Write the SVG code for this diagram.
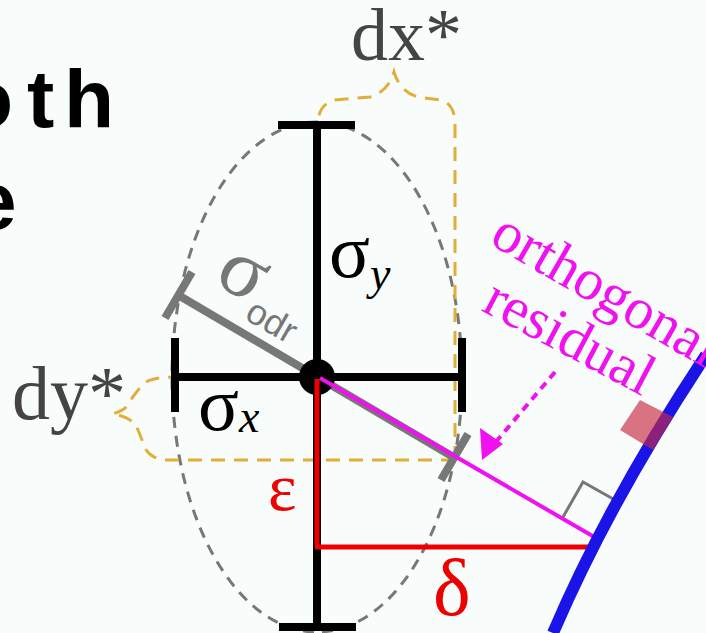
<svg xmlns="http://www.w3.org/2000/svg" width="706" height="633" viewBox="0 0 706 633">
<style>
.serif{font-family:"Liberation Serif","DejaVu Serif",serif}
.bold{font-family:"Liberation Sans","DejaVu Sans",sans-serif;font-weight:bold}
.blk{stroke:#000;stroke-width:8;fill:none}
.gold{stroke:#e2ae3a;stroke-width:3;fill:none;stroke-dasharray:14 9}
</style>
<rect width="706" height="633" fill="#f8fdfb"/>
<g id="title">
<text class="bold" font-size="82" fill="#000" y="127"><tspan x="-37">o</tspan><tspan x="27">t</tspan><tspan x="64">h</tspan></text>
<text x="-29" y="229" class="bold" font-size="82" fill="#000">e</text>
</g>
<g id="connectors">
<ellipse cx="317" cy="377" rx="145" ry="255" fill="none" stroke="#777" stroke-width="3" stroke-dasharray="11 8"/>
<path class="gold" d="M455,460 L455,125 Q455,103 440,100 L418,97 Q400,92 394,72 Q388,92 370,97 L335,100 Q319,104 318,122"/>
<path class="gold" d="M455,460 L165,460 Q146,458 142,440 L136,425 Q128,416 112,414 Q128,410 132,398 L142,385 Q150,377 175,377"/>
<line x1="178" y1="295" x2="455" y2="458" stroke="#777" stroke-width="8"/>
<line x1="165" y1="318" x2="192" y2="272" stroke="#777" stroke-width="8"/>
<line x1="468" y1="434" x2="441" y2="480" stroke="#777" stroke-width="8"/>
<line class="blk" x1="317" y1="125" x2="317" y2="628"/>
<line class="blk" x1="278" y1="125" x2="355" y2="125"/>
<line class="blk" x1="279" y1="627" x2="356" y2="627"/>
<line class="blk" x1="175" y1="377" x2="462" y2="377"/>
<line class="blk" x1="175" y1="338" x2="175" y2="412"/>
<line class="blk" x1="462" y1="338" x2="462" y2="412"/>
<circle cx="317" cy="377" r="18" fill="#000"/>
<line x1="317" y1="379" x2="317" y2="547" stroke="#ee0000" stroke-width="5"/>
<line x1="315" y1="547" x2="594" y2="547" stroke="#ee0000" stroke-width="5"/>
<line x1="320" y1="378" x2="596" y2="538" stroke="#f010f0" stroke-width="4"/>
<polyline points="563,517 583,482 615,500" fill="none" stroke="#777" stroke-width="3"/>
<path d="M553,633 Q610,500 706,355" fill="none" stroke="#1a14e8" stroke-width="12"/>
<polygon points="620,430 640,400 673,417 653,450" fill="#c8283f" fill-opacity="0.65"/>
<line x1="555" y1="372" x2="489" y2="450" stroke="#f010f0" stroke-width="4" stroke-dasharray="8 6"/>
<polygon points="482,460 480,428 503,444" fill="#f010f0"/>
</g>
<g id="labels">
<text x="351" y="60" class="serif" font-size="74" fill="#444">dx*</text>
<text x="12" y="419" class="serif" font-size="76" fill="#444">dy*</text>
<text x="329" y="277" class="serif" font-size="76" fill="#000">σ<tspan font-style="italic" font-size="46" dy="12">y</tspan></text>
<text x="198" y="430" class="serif" font-size="76" fill="#000">σ<tspan font-style="italic" font-size="46" dy="2">x</tspan></text>
<g transform="translate(212,282) rotate(30)">
<text x="0" y="0" class="serif" font-size="84" fill="#777">σ<tspan font-family="Liberation Sans,sans-serif" font-size="36" dy="16">odr</tspan></text>
</g>
<text x="268" y="510" class="serif" font-size="68" fill="#ee0000">ε</text>
<text x="433" y="615" class="serif" font-size="80" fill="#ee0000">δ</text>
<g transform="translate(488,243) rotate(30)">
<text x="0" y="0" class="serif" font-size="58" fill="#f010f0">orthogonal</text>
</g>
<g transform="translate(480,310) rotate(28)">
<text x="0" y="0" class="serif" font-size="58" fill="#f010f0">residual</text>
</g>
</g>
</svg>
